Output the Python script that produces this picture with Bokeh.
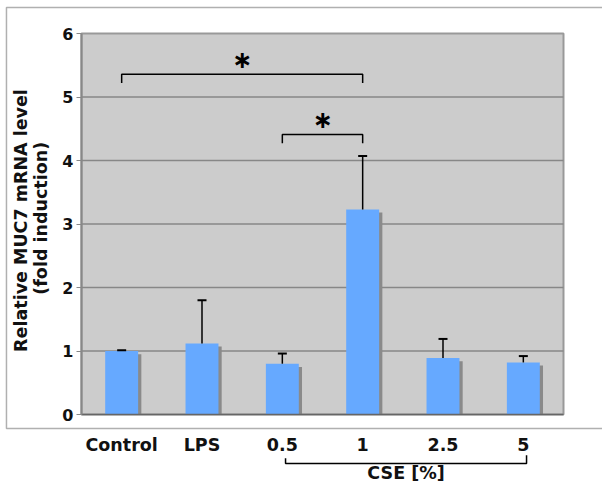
import math
from bokeh.plotting import figure
from bokeh.models import Range1d, FixedTicker, ColumnDataSource, LinearAxis
from bokeh.core.properties import value
from bokeh.transform import dodge
from bokeh.embed import file_html
from bokeh.resources import INLINE

# ---- data ----
categories = ["Control", "LPS", "0.5", "1", "2.5", "5"]
means = [1.00, 1.12, 0.80, 3.23, 0.89, 0.82]
upper = [1.01, 1.80, 0.96, 4.07, 1.19, 0.92]
y_ticks = [0, 1, 2, 3, 4, 5, 6]
sig_pairs = [(0, 3, 5.36), (2, 3, 4.41)]   # (from index, to index, bracket height)
group_label = "CSE [%]"
group_members = (2, 5)
y_title = ["Relative MUC7 mRNA level", "(fold induction)"]

FONT = "DejaVu Sans"
N = len(categories)
YMAX = 6
xs = [i + 0.5 for i in range(N)]

src = ColumnDataSource(dict(x=xs, top=means, up=upper, shadow_top=[m - 0.05 for m in means]))

# frame covers the whole canvas; the plot area is data [0, N] x [0, YMAX]
p = figure(width=602, height=491, output_backend="svg", toolbar_location=None,
           x_range=Range1d(-1.0083, 6.4855), y_range=Range1d(-1.2126, 6.5197),
           x_axis_type=None, y_axis_type=None, min_border=0)
p.outline_line_color = None
p.background_fill_color = "white"
p.border_fill_color = "white"
p.grid.visible = False

# outer chart frame
p.line([6.6, -0.934, -0.934, 6.6], [6.409, 6.409, -0.2205, -0.2205], line_color="#b0b0b0", line_width=1.5)

# plot area
p.quad(left=0, right=N, bottom=0, top=YMAX, fill_color="#cccccc", line_color="#999999", line_width=2)
p.segment(x0=0, x1=N, y0=y_ticks[1:-1], y1=y_ticks[1:-1], line_color="#878787", line_width=1.5)

# axes pinned to the plot area
yax = LinearAxis(fixed_location=0, ticker=FixedTicker(ticks=y_ticks))
yax.axis_line_color = "#888888"
yax.axis_line_width = 2
yax.major_tick_line_color = "#888888"
yax.major_tick_out = 5
yax.major_tick_in = 0
yax.minor_tick_line_color = None
yax.major_label_text_font = FONT
yax.major_label_text_font_style = "bold"
yax.major_label_text_font_size = "16px"
yax.major_label_text_color = "#111111"
yax.major_label_standoff = 3
yax.bounds = (0, YMAX)
p.add_layout(yax, "left")

xax = LinearAxis(fixed_location=0, ticker=FixedTicker(ticks=xs))
xax.major_label_overrides = {x: c for x, c in zip(xs, categories)}
xax.axis_line_color = "#666666"
xax.axis_line_width = 1.5
xax.major_tick_line_color = None
xax.minor_tick_line_color = None
xax.major_tick_out = 0
xax.major_tick_in = 0
xax.major_label_standoff = 20
xax.major_label_text_font = FONT
xax.major_label_text_font_style = "bold"
xax.major_label_text_font_size = "17.5px"
xax.major_label_text_color = "#111111"
xax.bounds = (0, N)
p.add_layout(xax, "below")

# bars with shadow
p.vbar(x=dodge("x", 0.04, range=p.x_range), top="shadow_top", bottom=0, width=0.41,
       source=src, fill_color="#8a8a8a", line_color=None)
p.vbar(x="x", top="top", bottom=0, width=0.41, source=src,
       fill_color="#66a9ff", line_color=None)

# error bars (upper only)
p.segment(x0="x", y0="top", x1="x", y1="up", source=src, line_color="black", line_width=1.5)
p.scatter(x="x", y="up", source=src, marker="dash", size=9, line_color="black", line_width=2)

# significance brackets
for a, b, h in sig_pairs:
    p.line([xs[a], xs[a], xs[b], xs[b]], [h - 0.14, h, h, h - 0.14], line_color="black", line_width=1.5)
    p.text(x=[(xs[a] + xs[b]) / 2], y=[h + 0.23], text=["\u2217"], text_align="center",
           text_baseline="middle", text_font=value(FONT), text_font_style="bold",
           text_font_size="24px", text_color="black")

# group bracket below the category labels
g0, g1 = xs[group_members[0]] + 0.04, xs[group_members[1]] + 0.04
p.line([g0, g0, g1, g1], [-0.69, -0.77, -0.77, -0.64], line_color="black", line_width=1.5)
p.text(x=[(g0 + g1) / 2], y=[-0.92], text=[group_label], text_align="center", text_baseline="middle",
       text_font=value(FONT), text_font_style="bold", text_font_size="17.5px", text_color="#111111")

# y axis title (two lines)
p.text(x=[-0.747, -0.51], y=[3.055, 3.09], text=y_title, angle=math.pi / 2, text_align="center",
       text_baseline="middle", text_font=value(FONT), text_font_style="bold",
       text_font_size="17.5px", text_color="#111111")

open("out.html", "w").write(file_html(p, INLINE))
